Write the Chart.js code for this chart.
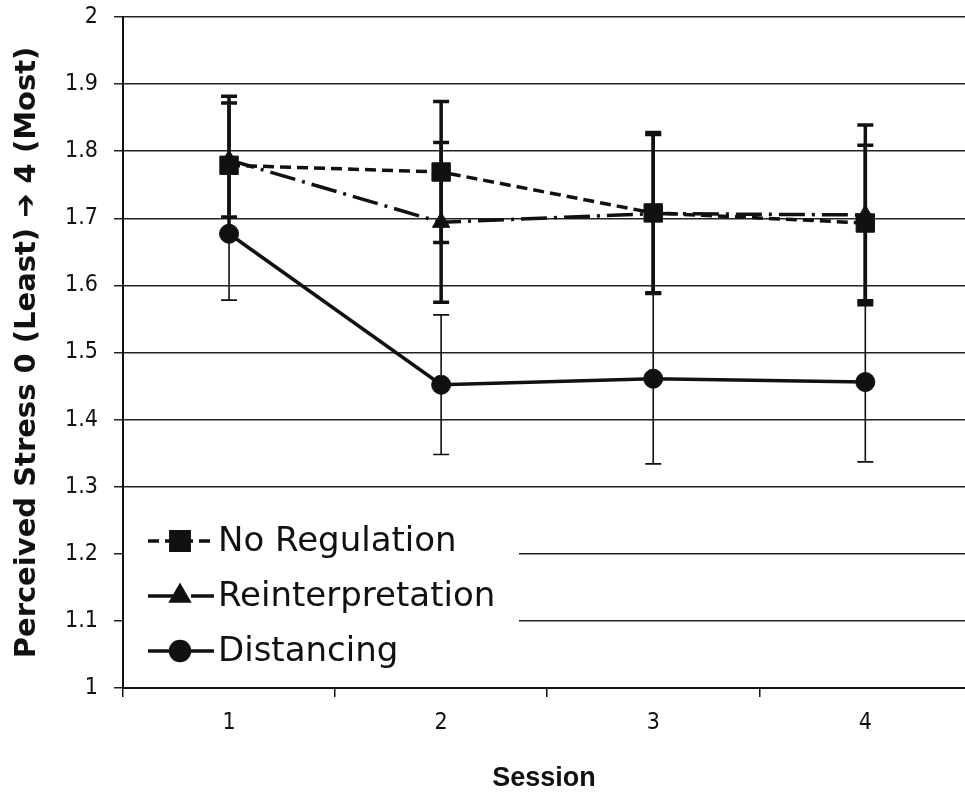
<!DOCTYPE html>
<html>
<head>
<meta charset="utf-8">
<script src="https://cdn.jsdelivr.net/npm/chart.js@4.4.1/dist/chart.umd.min.js"></script>
<style>
  html, body { margin: 0; padding: 0; background: #fff; overflow: hidden; }
  canvas { display: block; }
</style>
</head>
<body>
<canvas id="c" width="965" height="801"></canvas>
<script>
// values
const sessions = [1, 2, 3, 4];
const seriesNames = ['No Regulation', 'Reinterpretation', 'Distancing'];
const noRegulation    = [1.779, 1.769, 1.708, 1.693];
const noRegulationErr = [0.103, 0.105, 0.120, 0.116];
const reinterp        = [1.787, 1.694, 1.707, 1.705];
const reinterpErr     = [0.085, 0.119, 0.118, 0.134];
const distancing      = [1.677, 1.452, 1.461, 1.456];
const distancingErr   = [0.099, 0.104, 0.127, 0.119];
const yTicks = [1, 1.1, 1.2, 1.3, 1.4, 1.5, 1.6, 1.7, 1.8, 1.9, 2];

const INK = '#111';
const tickFont = { family: "'DejaVu Sans Condensed', 'Liberation Sans', sans-serif", size: 23 };

const pts = vals => sessions.map((s, i) => ({ x: s, y: vals[i] }));
const noPad = s => { s.paddingLeft = 0; s.paddingRight = 0; s.paddingTop = 0; s.paddingBottom = 0; };

// the plot runs off the right edge of the picture: stretch the area to the canvas edge
const fullRight = {
  id: 'fullRight',
  afterLayout(chart) {
    const area = chart.chartArea;
    area.right = chart.width;
    area.width = area.right - area.left;
    const x = chart.scales.x;
    x.right = chart.width;
    x.width = x.right - x.left;
    x.configure();
  }
};

// error bars, drawn under the lines and markers
const errorBars = {
  id: 'errorBars',
  beforeDatasetsDraw(chart) {
    const { ctx, scales: { x, y } } = chart;
    ctx.save();
    ctx.strokeStyle = INK;
    chart.data.datasets.forEach(ds => {
      ctx.lineWidth = ds.errWidth;
      ds.data.forEach((p, j) => {
        const e = ds.errors[j];
        const px = x.getPixelForValue(p.x);
        const top = y.getPixelForValue(p.y + e);
        const bot = y.getPixelForValue(p.y - e);
        ctx.beginPath();
        ctx.moveTo(px, top); ctx.lineTo(px, bot);
        ctx.moveTo(px - 8, top); ctx.lineTo(px + 8, top);
        ctx.moveTo(px - 8, bot); ctx.lineTo(px + 8, bot);
        ctx.stroke();
      });
    });
    ctx.restore();
  }
};

// legend sits inside the plot, bottom left, on a white box
const insideLegend = {
  id: 'insideLegend',
  afterDatasetsDraw(chart) {
    const { ctx, chartArea } = chart;
    ctx.save();
    ctx.fillStyle = '#fff';
    ctx.fillRect(chartArea.left + 1, 500, 395, chartArea.bottom - 502);
    const rows = [541, 596, 651];
    chart.data.datasets.forEach((ds, i) => {
      const yy = rows[i];
      ctx.strokeStyle = INK;
      ctx.lineWidth = ds.borderWidth;
      ctx.setLineDash(ds.borderDash || []);
      ctx.beginPath();
      ctx.moveTo(148, yy); ctx.lineTo(214, yy);
      ctx.stroke();
      ctx.setLineDash([]);
      ctx.fillStyle = INK;
      Chart.helpers.drawPoint(ctx, { pointStyle: ds.pointStyle, radius: ds.pointRadius, borderWidth: 1, rotation: 0 }, 180, yy);
      ctx.font = "34px 'DejaVu Sans', Verdana, sans-serif";
      ctx.textBaseline = 'middle';
      ctx.fillStyle = INK;
      ctx.fillText(ds.label, 218, yy + 1);
    });
    ctx.restore();
  }
};

new Chart(document.getElementById('c'), {
  type: 'line',
  data: {
    datasets: [
      { label: seriesNames[0], data: pts(noRegulation), errors: noRegulationErr, errWidth: 3.5,
        borderColor: INK, backgroundColor: INK, borderWidth: 3.5, borderDash: [11, 6],
        pointStyle: 'rect', pointRadius: 13, pointBorderWidth: 1 },
      { label: seriesNames[1], data: pts(reinterp), errors: reinterpErr, errWidth: 3.5,
        borderColor: INK, backgroundColor: INK, borderWidth: 3.5, borderDash: [26, 7, 3, 7],
        pointStyle: 'triangle', pointRadius: 10, pointBorderWidth: 1 },
      { label: seriesNames[2], data: pts(distancing), errors: distancingErr, errWidth: 1.6,
        borderColor: INK, backgroundColor: INK, borderWidth: 3.5,
        pointStyle: 'circle', pointRadius: 9.5, pointBorderWidth: 1 }
    ]
  },
  options: {
    responsive: false, animation: false,
    layout: { padding: { top: 17, right: 0, left: 0, bottom: 0 } },
    plugins: { legend: { display: false }, tooltip: { enabled: false } },
    scales: {
      x: {
        type: 'linear', min: 0.5, max: 4.47,
        afterBuildTicks: s => { s.ticks = [0.5, 1, 1.5, 2, 2.5, 3, 3.5, 4].map(v => ({ value: v })); },
        afterFit: s => { s.height = 113; noPad(s); },
        border: { display: true, color: INK, width: 2 },
        grid: {
          drawOnChartArea: false, drawTicks: true, tickLength: 9, lineWidth: 1.5,
          color: c => (c.tick && Number.isInteger(c.tick.value)) ? 'rgba(0,0,0,0)' : INK
        },
        ticks: {
          color: INK, font: tickFont, padding: 12, maxRotation: 0, autoSkip: false,
          callback: v => Number.isInteger(v) ? String(v) : ''
        },
        title: {
          display: true, text: 'Session', color: INK,
          font: { family: "'Liberation Sans', Arial, sans-serif", size: 27, weight: 'bold' },
          padding: { top: 0, bottom: 6 }
        }
      },
      y: {
        min: 1, max: 2,
        afterBuildTicks: s => { s.ticks = yTicks.map(v => ({ value: v })); },
        afterFit: s => { s.width = 123; noPad(s); },
        border: { display: true, color: INK, width: 2 },
        grid: { color: '#222', lineWidth: 1.5, drawTicks: true, tickLength: 9 },
        ticks: {
          color: INK, font: tickFont, padding: 16,
          callback: v => (v === 1 || v === 2) ? String(v) : v.toFixed(1)
        },
        title: {
          display: true, text: 'Perceived Stress 0 (Least) \u2794 4 (Most)', color: INK,
          font: { family: "'DejaVu Sans', Verdana, sans-serif", size: 29, weight: 'bold' },
          padding: { top: 10, bottom: 0 }
        }
      }
    }
  },
  plugins: [fullRight, errorBars, insideLegend]
});
</script>
</body>
</html>
